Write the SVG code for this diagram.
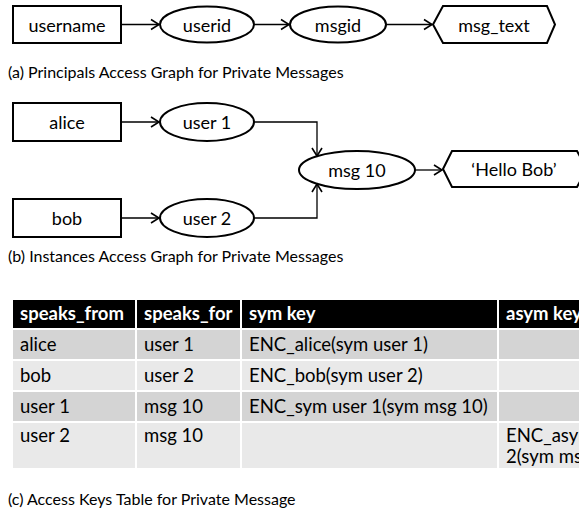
<svg xmlns="http://www.w3.org/2000/svg" width="579" height="513" viewBox="0 0 579 513">
  <defs>
    <marker id="arrow" markerUnits="userSpaceOnUse" markerWidth="12" markerHeight="14" viewBox="-10 -6 12 12" refX="0" refY="0" orient="auto">
      <path d="M-8,-5 L0,0 L-8,5" fill="none" stroke="#000" stroke-width="1.6"/>
    </marker>
    <style>
      .box { fill: #fff; stroke: #000; stroke-width: 2; }
      .lbl { font-family: Lato, "Open Sans", sans-serif; font-size: 18px; fill: #000; text-anchor: middle; dominant-baseline: central; }
      .cap { font-family: Lato, "Open Sans", sans-serif; font-size: 16px; fill: #000; }
      .edge { fill: none; stroke: #000; stroke-width: 1.3; marker-end: url(#arrow); }
      .th { font-family: Lato, "Open Sans", sans-serif; font-size: 18.5px; font-weight: bold; fill: #fff; }
      .td { font-family: Lato, "Open Sans", sans-serif; font-size: 18.5px; fill: #000; }
      .hdr { fill: #000; }
      .dark { fill: #d4d4d4; }
      .light { fill: #e9e9e9; }
    </style>
  </defs>

  <!-- (a) principals graph -->
  <g id="username">
    <rect class="box" x="13" y="6" width="108" height="37"/>
    <text class="lbl" x="67" y="24.5">username</text>
  </g>
  <g id="userid">
    <ellipse class="box" cx="207" cy="24.5" rx="47" ry="18"/>
    <text class="lbl" x="207" y="24.5">userid</text>
  </g>
  <g id="msgid">
    <ellipse class="box" cx="338" cy="24.5" rx="48" ry="18"/>
    <text class="lbl" x="338" y="24.5">msgid</text>
  </g>
  <g id="msg_text">
    <polygon class="box" points="433,24.5 443,6 547,6 555,24.5 547,43 443,43"/>
    <text class="lbl" x="494" y="24.5">msg_text</text>
  </g>
  <text class="cap" x="8" y="78">(a) Principals Access Graph for Private Messages</text>

  <!-- (b) instances graph -->
  <g id="alice">
    <rect class="box" x="13" y="103" width="108" height="38"/>
    <text class="lbl" x="67" y="122">alice</text>
  </g>
  <g id="user1">
    <ellipse class="box" cx="207" cy="122" rx="47" ry="19"/>
    <text class="lbl" x="207" y="122">user 1</text>
  </g>
  <g id="bob">
    <rect class="box" x="13" y="199" width="108" height="38"/>
    <text class="lbl" x="67" y="218">bob</text>
  </g>
  <g id="user2">
    <ellipse class="box" cx="207" cy="218" rx="47" ry="19"/>
    <text class="lbl" x="207" y="218">user 2</text>
  </g>
  <g id="msg10">
    <ellipse class="box" cx="357" cy="170" rx="58" ry="19"/>
    <text class="lbl" x="357" y="170">msg 10</text>
  </g>
  <g id="hello_bob">
    <polygon class="box" points="443,169 452,151 577,151 587,169 577,187 452,187"/>
    <text class="lbl" x="514" y="169">‘Hello Bob’</text>
  </g>
  <text class="cap" x="8" y="262">(b) Instances Access Graph for Private Messages</text>

  <!-- connectors -->
  <g id="connectors">
    <path class="edge" d="M121,24.5 H159"/>
    <path class="edge" d="M254,24.5 H289"/>
    <path class="edge" d="M386,24.5 H432"/>
    <path class="edge" d="M121,122 H159"/>
    <path class="edge" d="M121,218 H159"/>
    <path class="edge" d="M254,122 H317 V156"/>
    <path class="edge" d="M254,218 H317 V184"/>
    <path class="edge" d="M415,170 H442"/>
  </g>

  <!-- (c) access keys table -->
  <g id="table">
    <rect class="hdr" x="13" y="300" width="122" height="28"/>
    <rect class="hdr" x="137" y="300" width="103" height="28"/>
    <rect class="hdr" x="242" y="300" width="255" height="28"/>
    <rect class="hdr" x="499" y="300" width="80" height="28"/>

    <rect class="dark" x="13" y="330" width="122" height="29"/>
    <rect class="dark" x="137" y="330" width="103" height="29"/>
    <rect class="dark" x="242" y="330" width="255" height="29"/>
    <rect class="dark" x="499" y="330" width="80" height="29"/>

    <rect class="light" x="13" y="361" width="122" height="29"/>
    <rect class="light" x="137" y="361" width="103" height="29"/>
    <rect class="light" x="242" y="361" width="255" height="29"/>
    <rect class="light" x="499" y="361" width="80" height="29"/>

    <rect class="dark" x="13" y="392" width="122" height="29"/>
    <rect class="dark" x="137" y="392" width="103" height="29"/>
    <rect class="dark" x="242" y="392" width="255" height="29"/>
    <rect class="dark" x="499" y="392" width="80" height="29"/>

    <rect class="light" x="13" y="423" width="122" height="45"/>
    <rect class="light" x="137" y="423" width="103" height="45"/>
    <rect class="light" x="242" y="423" width="255" height="45"/>
    <rect class="light" x="499" y="423" width="80" height="45"/>

    <text class="th" x="20" y="320">speaks_from</text>
    <text class="th" x="144" y="320">speaks_for</text>
    <text class="th" x="249" y="320">sym key</text>
    <text class="th" x="506" y="320">asym key</text>

    <text class="td" x="20" y="351">alice</text>
    <text class="td" x="144" y="351">user 1</text>
    <text class="td" x="249" y="351">ENC_alice(sym user 1)</text>

    <text class="td" x="20" y="382">bob</text>
    <text class="td" x="144" y="382">user 2</text>
    <text class="td" x="249" y="382">ENC_bob(sym user 2)</text>

    <text class="td" x="20" y="413">user 1</text>
    <text class="td" x="144" y="413">msg 10</text>
    <text class="td" x="249" y="413">ENC_sym user 1(sym msg 10)</text>

    <text class="td" x="20" y="442">user 2</text>
    <text class="td" x="144" y="442">msg 10</text>
    <text class="td" x="506" y="442">ENC_asym user</text>
    <text class="td" x="506" y="463">2(sym msg 10)</text>
  </g>
  <text class="cap" x="8" y="505">(c) Access Keys Table for Private Message</text>
</svg>
